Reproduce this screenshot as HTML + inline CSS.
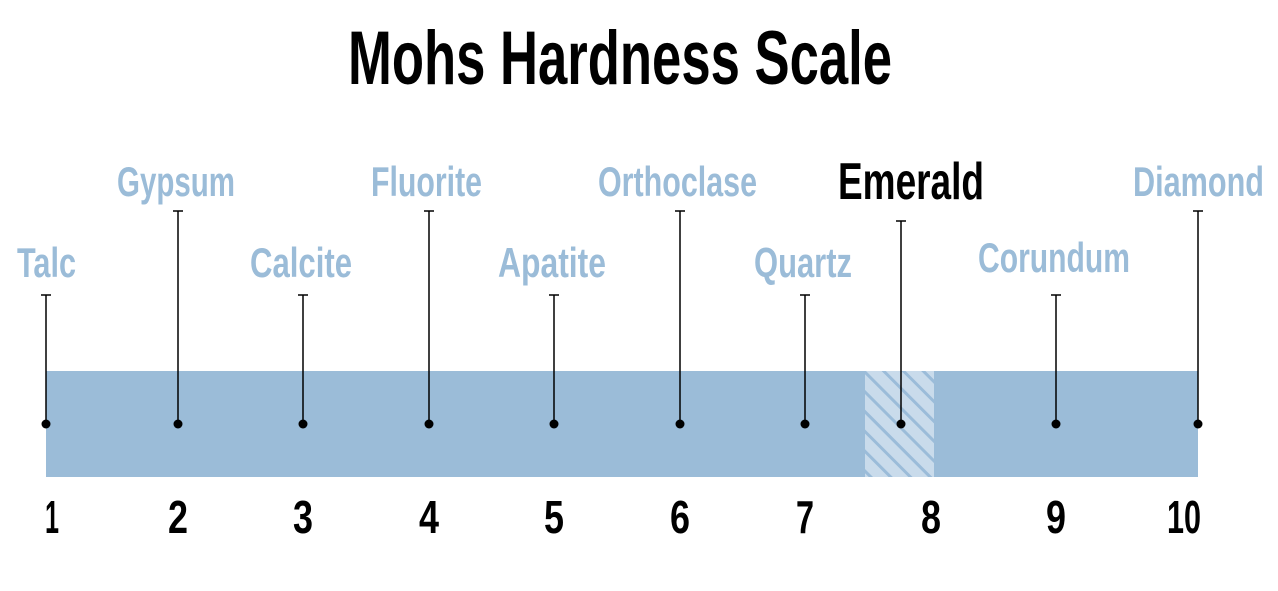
<!DOCTYPE html>
<html><head><meta charset="utf-8"><style>body{margin:0;background:#fff}svg{display:block}</style></head>
<body>
<svg width="1278" height="591" viewBox="0 0 1278 591" xmlns="http://www.w3.org/2000/svg" font-family="'Liberation Sans Narrow','Liberation Sans',sans-serif">
<defs>
<pattern id="h" patternUnits="userSpaceOnUse" width="14" height="14" patternTransform="rotate(45)">
<rect width="14" height="14" fill="#c9dbeb"/>
<rect width="14" height="3" fill="#9bbcd9"/>
</pattern>
</defs>
<text x="348" y="84" font-size="76" font-weight="bold" textLength="544" lengthAdjust="spacingAndGlyphs" fill="#000">Mohs Hardness Scale</text>
<rect x="46" y="371" width="1152" height="106" fill="#9bbcd8"/>
<rect x="865" y="371" width="69" height="106" fill="url(#h)"/>
<g stroke="#000" stroke-width="1.5">
<line x1="46" y1="295" x2="46" y2="424"/><line x1="41" y1="295" x2="51" y2="295"/>
<line x1="178" y1="211" x2="178" y2="424"/><line x1="173" y1="211" x2="183" y2="211"/>
<line x1="303" y1="295" x2="303" y2="424"/><line x1="298" y1="295" x2="308" y2="295"/>
<line x1="429" y1="211" x2="429" y2="424"/><line x1="424" y1="211" x2="434" y2="211"/>
<line x1="554" y1="295" x2="554" y2="424"/><line x1="549" y1="295" x2="559" y2="295"/>
<line x1="680" y1="211" x2="680" y2="424"/><line x1="675" y1="211" x2="685" y2="211"/>
<line x1="805" y1="295" x2="805" y2="424"/><line x1="800" y1="295" x2="810" y2="295"/>
<line x1="901" y1="221" x2="901" y2="424"/><line x1="896" y1="221" x2="906" y2="221"/>
<line x1="1056" y1="295" x2="1056" y2="424"/><line x1="1051" y1="295" x2="1061" y2="295"/>
<line x1="1198" y1="211" x2="1198" y2="424"/><line x1="1193" y1="211" x2="1203" y2="211"/>
</g>
<g fill="#000">
<circle cx="46" cy="424" r="4.5"/><circle cx="178" cy="424" r="4.5"/><circle cx="303" cy="424" r="4.5"/><circle cx="429" cy="424" r="4.5"/><circle cx="554" cy="424" r="4.5"/><circle cx="680" cy="424" r="4.5"/><circle cx="805" cy="424" r="4.5"/><circle cx="901" cy="424" r="4.5"/><circle cx="1056" cy="424" r="4.5"/><circle cx="1198" cy="424" r="4.5"/>
</g>
<g fill="#9bbcd8" font-size="42" font-weight="bold">
<text x="17" y="277" textLength="59" lengthAdjust="spacingAndGlyphs">Talc</text>
<text x="117" y="196" textLength="118" lengthAdjust="spacingAndGlyphs">Gypsum</text>
<text x="250" y="277" textLength="102" lengthAdjust="spacingAndGlyphs">Calcite</text>
<text x="371" y="196" textLength="111" lengthAdjust="spacingAndGlyphs">Fluorite</text>
<text x="498" y="277" textLength="108" lengthAdjust="spacingAndGlyphs">Apatite</text>
<text x="598" y="196" textLength="159" lengthAdjust="spacingAndGlyphs">Orthoclase</text>
<text x="754" y="277" textLength="98" lengthAdjust="spacingAndGlyphs">Quartz</text>
<text x="978" y="272" textLength="152" lengthAdjust="spacingAndGlyphs">Corundum</text>
<text x="1133" y="196" textLength="131" lengthAdjust="spacingAndGlyphs">Diamond</text>
</g>
<text x="838" y="199" font-size="52" font-weight="bold" textLength="146" lengthAdjust="spacingAndGlyphs" fill="#000">Emerald</text>
<g fill="#000" font-size="46" font-weight="bold">
<text x="45" y="533" textLength="14" lengthAdjust="spacingAndGlyphs">1</text>
<text x="168" y="533" textLength="20" lengthAdjust="spacingAndGlyphs">2</text>
<text x="293" y="533" textLength="20" lengthAdjust="spacingAndGlyphs">3</text>
<text x="419" y="533" textLength="20" lengthAdjust="spacingAndGlyphs">4</text>
<text x="544" y="533" textLength="20" lengthAdjust="spacingAndGlyphs">5</text>
<text x="670" y="533" textLength="20" lengthAdjust="spacingAndGlyphs">6</text>
<text x="796" y="533" textLength="18" lengthAdjust="spacingAndGlyphs">7</text>
<text x="921" y="533" textLength="20" lengthAdjust="spacingAndGlyphs">8</text>
<text x="1046" y="533" textLength="20" lengthAdjust="spacingAndGlyphs">9</text>
<text x="1167" y="533" textLength="34" lengthAdjust="spacingAndGlyphs">10</text>
</g>
</svg>
</body></html>
